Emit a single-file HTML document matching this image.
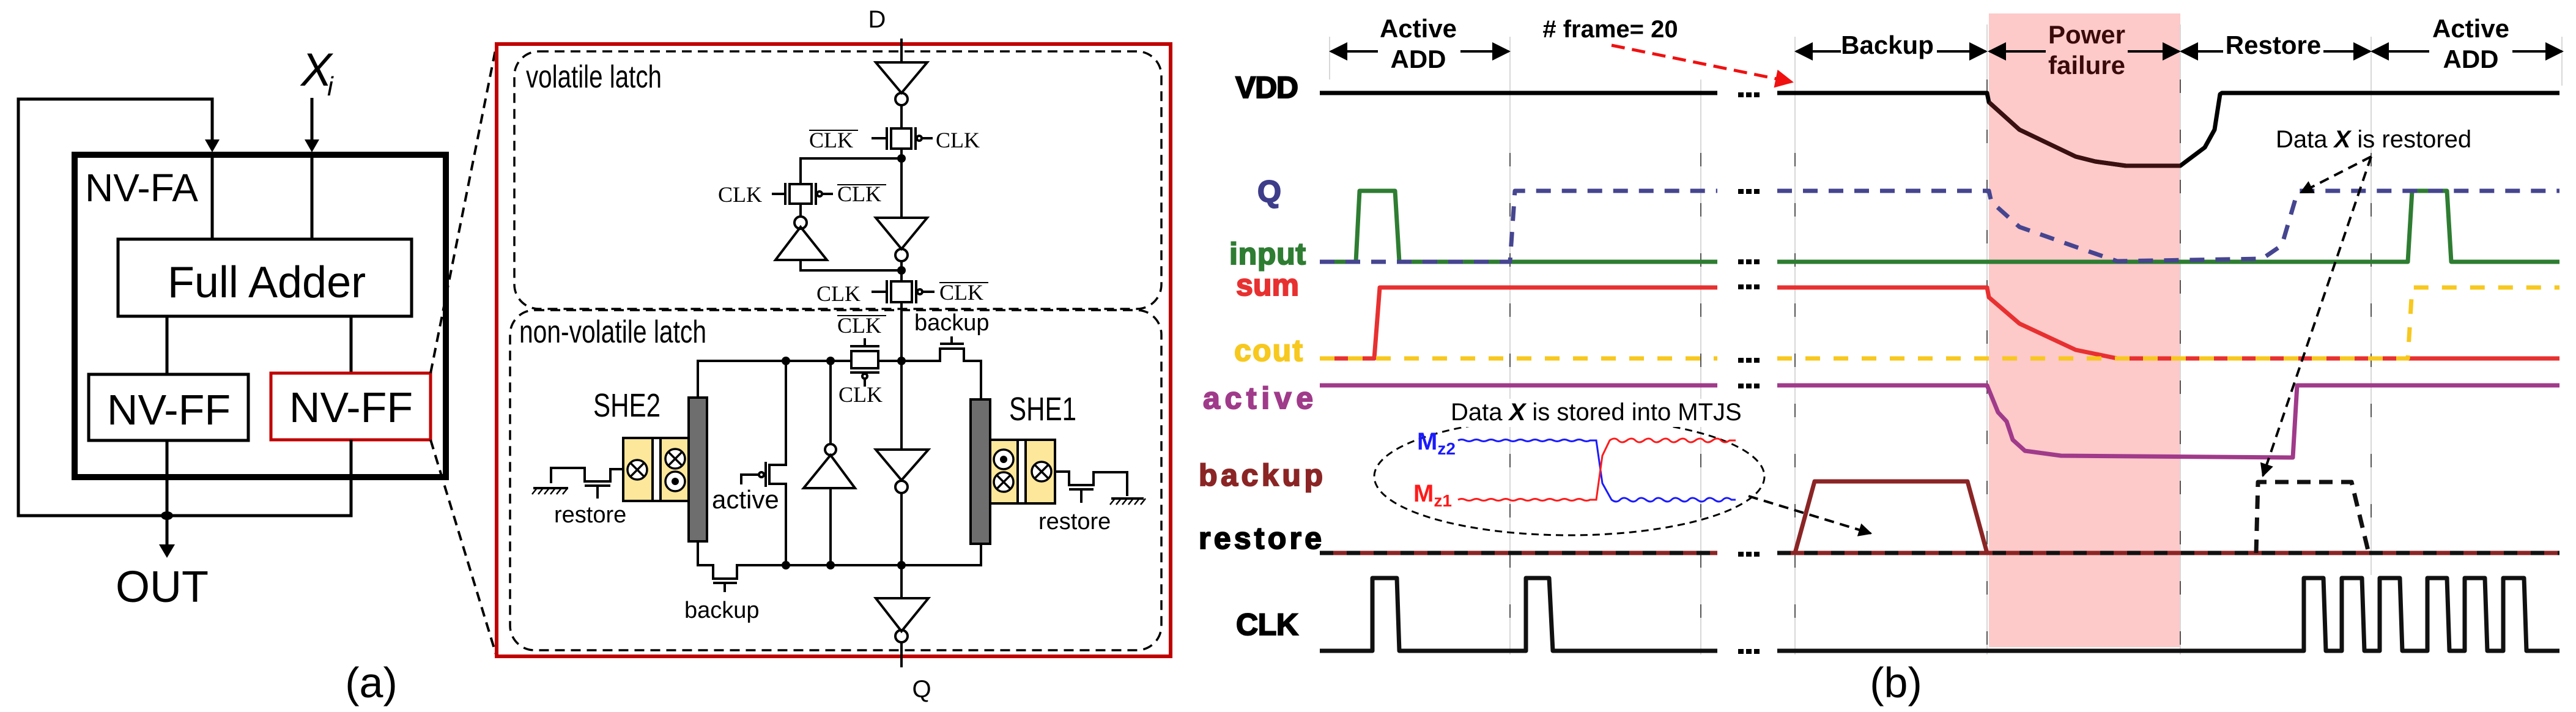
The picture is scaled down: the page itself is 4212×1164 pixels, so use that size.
<!DOCTYPE html>
<html><head><meta charset="utf-8"><style>html,body{margin:0;padding:0;background:#fff}svg{display:block}</style></head>
<body>
<svg width="4212" height="1164" viewBox="0 0 4212 1164" xmlns="http://www.w3.org/2000/svg" font-family="Liberation Sans, sans-serif">
<defs>
<marker id="ahb" viewBox="0 0 10 10" refX="9" refY="5" markerWidth="26" markerHeight="22" orient="auto" markerUnits="userSpaceOnUse"><path d="M0,0L10,5L0,10z" fill="#000"/></marker>
<marker id="ahr" viewBox="0 0 10 10" refX="9" refY="5" markerWidth="36" markerHeight="30" orient="auto" markerUnits="userSpaceOnUse"><path d="M0,0L10,5L0,10z" fill="#f01010"/></marker>
<marker id="aa" viewBox="0 0 10 10" refX="9" refY="5" markerWidth="34" markerHeight="30" orient="auto-start-reverse" markerUnits="userSpaceOnUse"><path d="M0,0L10,5L0,10z" fill="#000"/></marker>
<g id="dd"><rect x="2842" y="0" width="9" height="8"/><rect x="2855" y="0" width="9" height="8"/><rect x="2868" y="0" width="9" height="8"/></g>
</defs>

<!-- ============ (a) ============ -->
<g fill="none" stroke="#000" stroke-width="5">
<polyline points="347,232 347,162 30,162 30,843 273,843"/>
<line x1="510" y1="160" x2="510" y2="232"/>
<rect x="122" y="253" width="607" height="527" stroke-width="10"/>
<line x1="347" y1="249" x2="347" y2="391"/>
<line x1="510" y1="249" x2="510" y2="391"/>
<rect x="193" y="391" width="480" height="126"/>
<line x1="273" y1="517" x2="273" y2="612"/>
<line x1="574" y1="517" x2="574" y2="610"/>
<rect x="145" y="612" width="261" height="108"/>
<rect x="443" y="610" width="261" height="109" stroke="#c00000"/>
<polyline points="273,720 273,895"/>
<polyline points="574,719 574,843 273,843"/>
</g>
<path d="M335,228 L359,228 L347,249z M498,228 L522,228 L510,249z M260,890 L286,890 L273,912z" fill="#000"/>
<ellipse cx="273" cy="843" rx="10" ry="7" fill="#000"/>
<text x="139" y="329" font-size="64">NV-FA</text>
<text x="436" y="486" font-size="72" text-anchor="middle">Full Adder</text>
<text x="276" y="694" font-size="70" text-anchor="middle">NV-FF</text>
<text x="574" y="690" font-size="70" text-anchor="middle">NV-FF</text>
<text x="492" y="140" font-size="76" font-style="italic">X</text><text x="535" y="156" font-size="44" font-style="italic">i</text>
<text x="265" y="984" font-size="72" text-anchor="middle">OUT</text>
<text x="607" y="1140" font-size="70" text-anchor="middle">(a)</text>
<g stroke="#000" stroke-width="4" stroke-dasharray="16,10" fill="none">
<line x1="704" y1="610" x2="812" y2="72"/>
<line x1="704" y1="719" x2="812" y2="1073"/>
</g>

<!-- ============ schematic ============ -->
<rect x="812" y="72" width="1102" height="1001" fill="none" stroke="#c00000" stroke-width="6"/>
<g fill="none" stroke="#000" stroke-width="3.5" stroke-dasharray="16,10">
<rect x="841" y="84" width="1058" height="421" rx="40"/>
<rect x="834" y="507" width="1065" height="556" rx="40"/>
</g>
<text x="860" y="143" font-size="52" textLength="222" lengthAdjust="spacingAndGlyphs">volatile latch</text>
<text x="849" y="560" font-size="52" textLength="306" lengthAdjust="spacingAndGlyphs">non-volatile latch</text>
<text x="1434" y="45" font-size="40" text-anchor="middle">D</text>
<text x="1507" y="1140" font-size="40" text-anchor="middle">Q</text>
<g fill="none" stroke="#000" stroke-width="4">
<line x1="1474" y1="63" x2="1474" y2="102"/>
<polygon points="1432,102 1516,102 1474,152"/><circle cx="1474" cy="162" r="10"/>
<line x1="1474" y1="172" x2="1474" y2="210"/>
<rect x="1457" y="210" width="33" height="33"/>
<line x1="1450" y1="208" x2="1450" y2="245"/><line x1="1425" y1="226" x2="1450" y2="226"/>
<line x1="1497" y1="208" x2="1497" y2="245"/><circle cx="1503" cy="226" r="4"/><line x1="1507" y1="226" x2="1525" y2="226"/>
<line x1="1474" y1="243" x2="1474" y2="356"/>
<polyline points="1474,259 1309,259 1309,301"/>
<rect x="1291" y="301" width="36" height="32"/>
<line x1="1284" y1="299" x2="1284" y2="335"/><line x1="1262" y1="317" x2="1284" y2="317"/>
<line x1="1334" y1="299" x2="1334" y2="335"/><circle cx="1340" cy="317" r="4"/><line x1="1344" y1="317" x2="1362" y2="317"/>
<line x1="1309" y1="333" x2="1309" y2="354"/><circle cx="1309" cy="364" r="10"/>
<polygon points="1309,371 1268,425 1352,425"/>
<polyline points="1309,425 1309,442 1474,442"/>
<polygon points="1432,356 1516,356 1474,407"/><circle cx="1474" cy="417" r="10"/>
<line x1="1474" y1="427" x2="1474" y2="460"/>
<rect x="1457" y="460" width="34" height="34"/>
<line x1="1450" y1="458" x2="1450" y2="496"/><line x1="1425" y1="477" x2="1450" y2="477"/>
<line x1="1498" y1="458" x2="1498" y2="496"/><circle cx="1504" cy="477" r="4"/><line x1="1508" y1="477" x2="1528" y2="477"/>
<line x1="1474" y1="494" x2="1474" y2="735"/>
<polygon points="1432,735 1518,735 1474,785"/><circle cx="1474" cy="796" r="10"/>
<line x1="1474" y1="806" x2="1474" y2="978"/>
<polygon points="1432,978 1518,978 1474,1032"/><circle cx="1474" cy="1040" r="10"/>
<line x1="1474" y1="1050" x2="1474" y2="1091"/>
<polyline points="1141,650 1141,590 1392,590"/>
<rect x="1392" y="574" width="44" height="28"/>
<line x1="1390" y1="566" x2="1438" y2="566"/><line x1="1414" y1="566" x2="1414" y2="553"/>
<line x1="1390" y1="609" x2="1438" y2="609"/><circle cx="1414" cy="615" r="4"/><line x1="1414" y1="619" x2="1414" y2="632"/>
<polyline points="1436,590 1537,590 1537,570 1576,570 1576,590 1604,590 1604,653"/>
<line x1="1537" y1="562" x2="1576" y2="562"/><line x1="1556" y1="562" x2="1556" y2="550"/>
<polyline points="1141,885 1141,924 1166,924 1166,946 1205,946 1205,924 1604,924 1604,889"/>
<line x1="1166" y1="953" x2="1205" y2="953"/><line x1="1185" y1="953" x2="1185" y2="968"/>
<polyline points="1285,590 1285,760 1258,760 1258,791 1285,791 1285,924"/>
<line x1="1252" y1="755" x2="1252" y2="796"/><circle cx="1245" cy="776" r="4"/>
<polyline points="1241,776 1212,776 1212,792"/>
<line x1="1358" y1="590" x2="1358" y2="726"/><circle cx="1358" cy="735" r="9"/>
<polygon points="1358,744 1314,798 1398,798"/><line x1="1358" y1="798" x2="1358" y2="924"/>
<polyline points="1019,767 998,767 998,787 956,787 956,765 901,765 901,790"/>
<line x1="956" y1="794" x2="998" y2="794"/><line x1="977" y1="794" x2="977" y2="815"/>
<line x1="872" y1="798" x2="929" y2="798"/>
<polyline points="1725,771 1748,771 1748,793 1788,793 1788,772 1843,772 1843,811"/>
<line x1="1748" y1="800" x2="1788" y2="800"/><line x1="1768" y1="800" x2="1768" y2="822"/>
<line x1="1817" y1="815" x2="1870" y2="815"/>
</g>
<g stroke="#000" stroke-width="2.5">
<path d="M878,798l-8,10M888,798l-8,10M898,798l-8,10M908,798l-8,10M918,798l-8,10M928,798l-8,10"/>
<path d="M1823,815l-8,10M1833,815l-8,10M1843,815l-8,10M1853,815l-8,10M1863,815l-8,10M1873,815l-8,10"/>
</g>
<g fill="#000"><circle cx="1474" cy="259" r="7"/><circle cx="1474" cy="442" r="7"/><circle cx="1474" cy="590" r="7"/><circle cx="1358" cy="590" r="7"/><circle cx="1285" cy="590" r="7"/><circle cx="1474" cy="924" r="7"/><circle cx="1358" cy="924" r="7"/><circle cx="1285" cy="924" r="7"/></g>
<g stroke="#000" stroke-width="4">
<rect x="1019" y="716" width="107" height="103" fill="#fde79a"/><rect x="1067" y="716" width="13" height="103" fill="#fff"/>
<rect x="1126" y="650" width="30" height="235" fill="#6e6e6e"/>
<rect x="1619" y="719" width="106" height="104" fill="#fde79a"/><rect x="1664" y="719" width="13" height="104" fill="#fff"/>
<rect x="1587" y="653" width="32" height="236" fill="#6e6e6e"/>
</g>
<g stroke="#000" stroke-width="3.5" fill="#fff">
<circle cx="1042" cy="768" r="16"/><circle cx="1104" cy="750" r="16"/><circle cx="1104" cy="787" r="16"/>
<circle cx="1641" cy="751" r="16"/><circle cx="1641" cy="788" r="16"/><circle cx="1703" cy="771" r="16"/>
<path d="M1031,757l22,22M1053,757l-22,22M1093,739l22,22M1115,739l-22,22M1630,777l22,22M1652,777l-22,22M1692,760l22,22M1714,760l-22,22"/>
</g>
<circle cx="1104" cy="787" r="6" fill="#000"/><circle cx="1641" cy="751" r="6" fill="#000"/>
<text x="970" y="681" font-size="54" textLength="110" lengthAdjust="spacingAndGlyphs">SHE2</text>
<text x="1650" y="687" font-size="54" textLength="110" lengthAdjust="spacingAndGlyphs">SHE1</text>
<g font-size="38">
<text x="906" y="854">restore</text><text x="1698" y="865">restore</text>
<text x="1164" y="831" font-size="42">active</text>
<text x="1119" y="1010">backup</text><text x="1495" y="540">backup</text>
</g>
<g font-family="Liberation Serif, serif" font-size="36">
<text x="1323" y="241">CLK</text><line x1="1323" y1="213" x2="1403" y2="213" stroke="#000" stroke-width="2"/>
<text x="1530" y="241">CLK</text>
<text x="1174" y="330">CLK</text>
<text x="1369" y="329">CLK</text><line x1="1369" y1="302" x2="1449" y2="302" stroke="#000" stroke-width="2"/>
<text x="1335" y="492">CLK</text>
<text x="1536" y="490">CLK</text><line x1="1536" y1="462" x2="1616" y2="462" stroke="#000" stroke-width="2"/>
<text x="1369" y="544">CLK</text><line x1="1369" y1="516" x2="1449" y2="516" stroke="#000" stroke-width="2"/>
<text x="1371" y="657">CLK</text>
</g>

<!-- ============ (b) ============ -->
<rect x="3252" y="22" width="313" height="1036" fill="#fdc9c9"/>
<g stroke="#d8d8d8" stroke-width="2">
<line x1="2174" y1="60" x2="2174" y2="130"/><line x1="2469" y1="60" x2="2469" y2="1070"/><line x1="2781" y1="130" x2="2781" y2="1070"/>
<line x1="2935" y1="60" x2="2935" y2="1070"/><line x1="3249" y1="40" x2="3249" y2="1070"/><line x1="3565" y1="40" x2="3565" y2="1070"/>
<line x1="3877" y1="60" x2="3877" y2="940"/><line x1="4189" y1="60" x2="4189" y2="140"/>
</g>
<g stroke="#555" stroke-width="2" stroke-dasharray="22,60">
<line x1="2469" y1="250" x2="2469" y2="1070"/><line x1="2781" y1="250" x2="2781" y2="1070"/><line x1="2935" y1="250" x2="2935" y2="1070"/>
<line x1="3249" y1="130" x2="3249" y2="1070"/><line x1="3565" y1="130" x2="3565" y2="1070"/><line x1="3877" y1="250" x2="3877" y2="900"/>
</g>
<g stroke="#000" stroke-width="4" marker-end="url(#aa)">
<line x1="2253" y1="84" x2="2176" y2="84"/><line x1="2388" y1="84" x2="2467" y2="84"/>
<line x1="3010" y1="84" x2="2937" y2="84"/><line x1="3167" y1="84" x2="3247" y2="84"/>
<line x1="3345" y1="84" x2="3253" y2="84"/><line x1="3479" y1="84" x2="3563" y2="84"/>
<line x1="3635" y1="84" x2="3567" y2="84"/><line x1="3799" y1="84" x2="3875" y2="84"/>
<line x1="3972" y1="84" x2="3879" y2="84"/><line x1="4108" y1="84" x2="4189" y2="84"/>
</g>
<g font-weight="bold" font-size="42" text-anchor="middle">
<text x="2319" y="61">Active</text><text x="2319" y="111">ADD</text>
<text x="4040" y="61">Active</text><text x="4040" y="111">ADD</text>
<text x="3086" y="88">Backup</text>
<text x="3412" y="71" fill="#3a0a0a">Power</text><text x="3412" y="121" fill="#3a0a0a">failure</text>
<text x="3717" y="88">Restore</text>
<text x="2633" y="61" font-size="40">#  frame= 20</text>
</g>
<line x1="2635" y1="74" x2="2930" y2="134" stroke="#f01010" stroke-width="5" stroke-dasharray="22,12" marker-end="url(#ahr)"/>
<g font-weight="bold" font-size="50" stroke-width="2" lengthAdjust="spacingAndGlyphs">
<text x="2020" y="160" stroke="#000" textLength="103">VDD</text>
<text x="2056" y="330" fill="#3d3d8a" stroke="#3d3d8a" textLength="34">Q</text>
<text x="2010" y="432" fill="#2e7d32" stroke="#2e7d32" textLength="125">input</text>
<text x="2021" y="483" fill="#e83030" stroke="#e83030" textLength="103">sum</text>
<text x="2018" y="590" fill="#f7c81e" stroke="#f7c81e" textLength="112">cout</text>
<text x="1967" y="668" fill="#a03a8a" stroke="#a03a8a" textLength="180">active</text>
<text x="1960" y="794" fill="#8b2525" stroke="#8b2525" textLength="203">backup</text>
<text x="1960" y="897" stroke="#000" textLength="201">restore</text>
<text x="2021" y="1038" stroke="#000" textLength="102">CLK</text>
</g>
<g fill="#000">
<use href="#dd" y="151"/><use href="#dd" y="309"/><use href="#dd" y="424"/><use href="#dd" y="465"/><use href="#dd" y="585"/><use href="#dd" y="627"/><use href="#dd" y="902"/><use href="#dd" y="1061"/>
</g>
<g fill="none" stroke-width="7" stroke-linejoin="round">
<path d="M2158,152H2808M2906,152H3249L3252,167L3302,212L3394,256L3426,264L3476,271H3565L3605,241L3621,212L3630,154L3633,152H4185" stroke="#000"/>
<path d="M3252,167L3302,212L3394,256L3426,264L3476,271H3565" stroke="#3a1010"/>
<path d="M2158,904H2808M2906,904H3249H4185" stroke="#8b2525"/>
<path d="M2158,904H2808M2906,904H4185" stroke="#111" stroke-dasharray="22,22"/>
<path d="M2935,904L2967,787H3217L3249,904" stroke="#8b2525"/>
<path d="M3689,904L3692,788H3845L3873,904" stroke="#111" stroke-dasharray="22,14"/>
<path d="M2158,630H2808M2906,630H3249L3267,674L3281,689L3291,719L3311,737L3370,745L3749,748L3756,630H4185" stroke="#a03a8a"/>
<path d="M2158,586H2247L2256,470H2808M2906,470H3249L3252,486L3302,529L3394,572L3462,586H4185" stroke="#e83030"/>
<path d="M2158,586H2808M2906,586H3937L3944,470H4185" stroke="#f7c81e" stroke-dasharray="24,22"/>
<path d="M2158,428H2217L2223,312H2281L2288,428H2808M2906,428H3937L3944,312H4001L4008,428H4185" stroke="#2e7d32"/>
<path d="M2158,428H2469L2477,312H2808M2906,312H3252L3256,330L3302,371L3398,405L3462,427L3699,423L3731,401L3756,316L3760,312H4185" stroke="#454590" stroke-dasharray="24,18"/>
<path d="M2158,1064H2244V945H2284L2288,1064H2495V945H2533L2539,1064H2808M2906,1064H3767V945H3799L3803,1064H3829V945H3862L3866,1064H3891V945H3924L3928,1064H3969V945H4001L4005,1064H4030V945H4063L4067,1064H4093V945H4127L4131,1064H4185" stroke="#111"/>
</g>
<ellipse cx="2566" cy="779" rx="319" ry="96" fill="none" stroke="#000" stroke-width="3" stroke-dasharray="12,8"/>
<rect x="2352" y="652" width="475" height="46" fill="#fff"/>
<text x="2372" y="687" font-size="40">Data <tspan font-weight="bold" font-style="italic">X</tspan> is stored into MTJS</text>
<text x="2317" y="735" font-size="40" font-weight="bold" fill="#1a1aff">M<tspan font-size="28" dy="8">z2</tspan></text>
<text x="2311" y="820" font-size="40" font-weight="bold" fill="#ff1a1a">M<tspan font-size="28" dy="8">z1</tspan></text>
<g fill="none" stroke-width="3">
<path d="M2384,720 q6,-3 12,0 t12,0 t12,0 t12,0 t12,0 t12,0 t12,0 t12,0 t12,0 t12,0 t12,0 t12,0 t12,0 t12,0 t12,0 t12,0 t12,0 t12,0 L2610,720 L2620,790 L2635,817 q8,6 14,0 t14,0 t14,0 t14,0 t14,0 t14,0 t14,0 t14,0 t14,0 t14,0 t14,0 t14,0 t14,0 t14,0 L2838,817" stroke="#1a1aff"/>
<path d="M2384,817 q6,-3 12,0 t12,0 t12,0 t12,0 t12,0 t12,0 t12,0 t12,0 t12,0 t12,0 t12,0 t12,0 t12,0 t12,0 t12,0 t12,0 t12,0 t12,0 L2610,817 L2620,745 L2632,720 q8,-6 14,0 t14,0 t14,0 t14,0 t14,0 t14,0 t14,0 t14,0 t14,0 t14,0 t14,0 t14,0 t14,0 t14,0 L2838,720" stroke="#ff1a1a"/>
</g>
<g stroke="#000" stroke-width="4" stroke-dasharray="16,10" fill="none" marker-end="url(#ahb)">
<line x1="2859" y1="811" x2="3059" y2="872"/>
<line x1="3877" y1="256" x2="3762" y2="315"/>
<line x1="3877" y1="256" x2="3700" y2="778"/>
</g>
<text x="3721" y="241" font-size="40">Data <tspan font-weight="bold" font-style="italic">X</tspan> is restored</text>
<text x="3100" y="1140" font-size="70" text-anchor="middle">(b)</text>
</svg>
</body></html>
